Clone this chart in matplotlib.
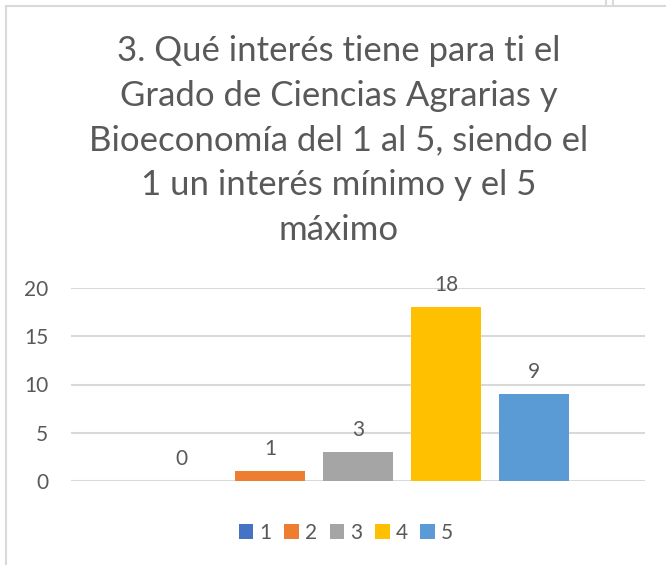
import matplotlib
matplotlib.use("Agg")
import matplotlib.pyplot as plt
from matplotlib.lines import Line2D

# data
series = ["1", "2", "3", "4", "5"]
counts = [0, 1, 3, 18, 9]
colors = ["#4472C4", "#ED7D31", "#A5A5A5", "#FFC000", "#5B9BD5"]
yticks = [0, 5, 10, 15, 20]
title = ("3. Qué interés tiene para ti el\nGrado de Ciencias Agrarias y\n"
         "Bioeconomía del 1 al 5, siendo el\n1 un interés mínimo y el 5\nmáximo")

plt.rcParams["font.family"] = ["Lato", "DejaVu Sans"]
txt = "#595959"
grid = "#D9D9D9"

fig = plt.figure(figsize=(6.66, 5.65), dpi=100)
ax = fig.add_axes([71 / 666, 1 - 481 / 565, 574 / 666, 193 / 565])

xs = list(range(1, len(series) + 1))
bars = ax.bar(xs, counts, width=0.795, color=colors, label=series, zorder=3)
for b, v in zip(bars, counts):
    ax.annotate(str(v), (b.get_x() + b.get_width() / 2, v), xytext=(0, 11.5),
                textcoords="offset points", ha="center", va="baseline",
                fontsize=15, color=txt, annotation_clip=False)

ax.set_xlim(3 - 3.26, 3 + 3.26)
ax.set_ylim(0, 20)
ax.set_yticks(yticks)
ax.set_xticks([])
ax.grid(axis="y", color=grid, linewidth=1.5, zorder=0)
for s in ax.spines.values():
    s.set_visible(False)
ax.tick_params(axis="y", length=0, labelsize=15, labelcolor=txt, pad=16.5)

fig.text(339 / 666, 1 - 35 / 565, title, ha="center", va="top", fontsize=25,
         color=txt, linespacing=1.49)

leg = fig.legend(handles=bars, labels=series, loc="center", ncol=5,
                 bbox_to_anchor=(346 / 666, 1 - 533 / 565), frameon=False,
                 fontsize=15, handlelength=0.7, handleheight=0.7,
                 handletextpad=0.3, columnspacing=0.6)
for t in leg.get_texts():
    t.set_color(txt)

# chart frame fragments
fig.add_artist(Line2D([6 / 666, 6 / 666], [0, 1 - 6 / 565], color=grid, lw=1.5))
fig.add_artist(Line2D([6 / 666, 1], [1 - 6 / 565, 1 - 6 / 565], color=grid, lw=1.5))
for xp in (606, 613):
    fig.add_artist(Line2D([xp / 666, xp / 666], [1 - 6 / 565, 1], color=grid, lw=1.5))

fig.savefig("out.png", dpi=100)
